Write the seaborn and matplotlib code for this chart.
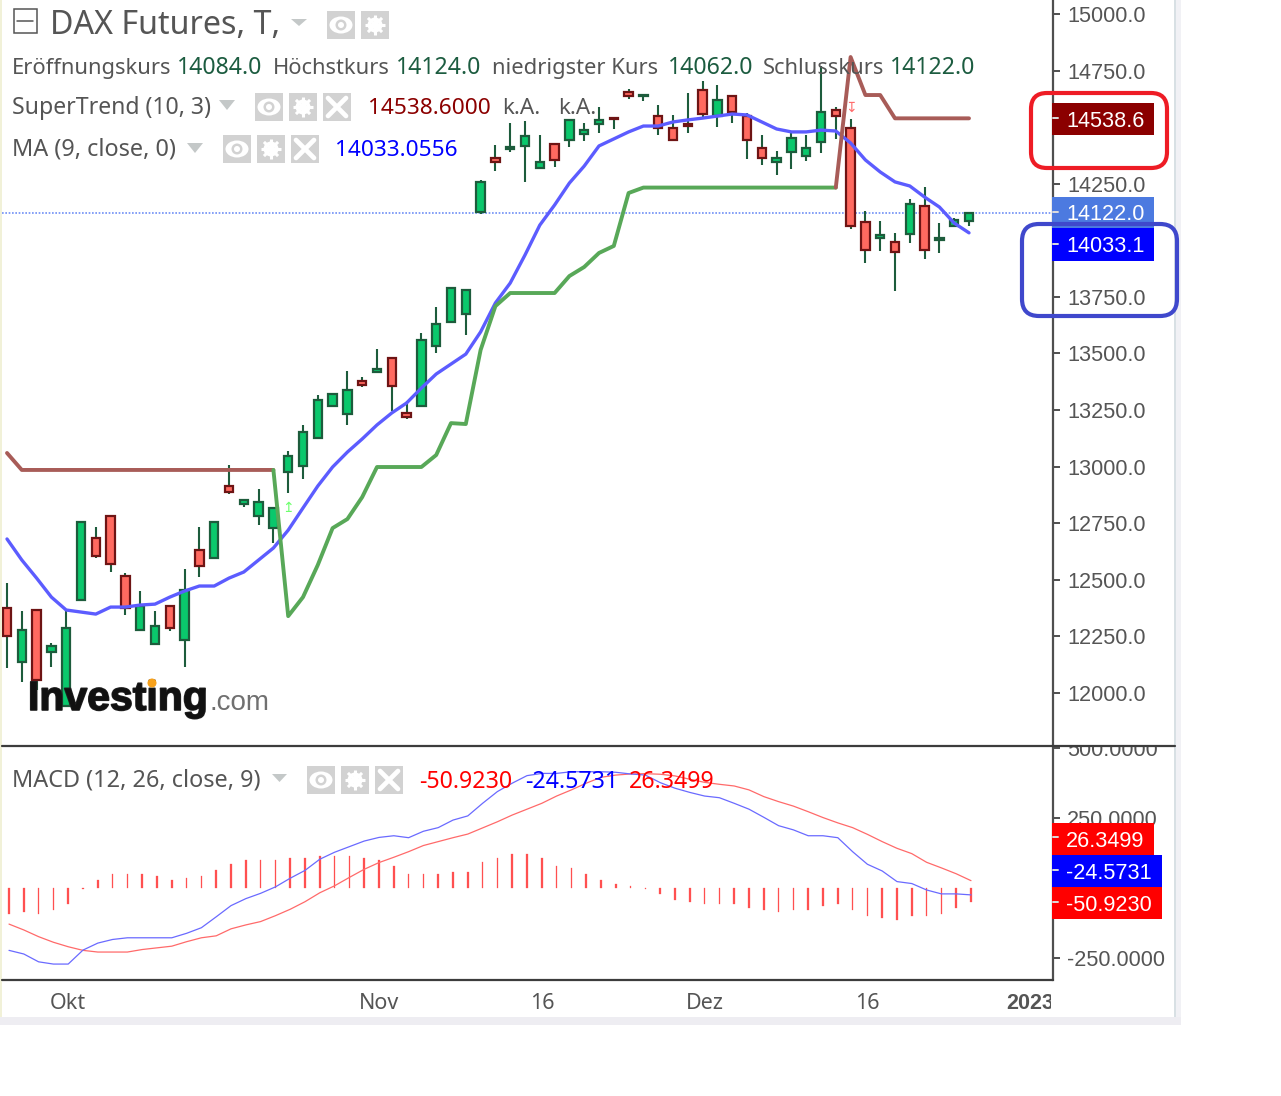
#!/usr/bin/env python3
import matplotlib

matplotlib.use("Agg")
import matplotlib.patheffects as pe
import matplotlib.pyplot as plt
import numpy as np
import seaborn as sns
from matplotlib.patches import Ellipse, FancyBboxPatch, Polygon, Rectangle
from matplotlib.transforms import Bbox

W, H = 1281, 1096
DPI = 100
UI_FONT = "Noto Sans"
AXIS_FONT = "Liberation Sans"

# daily candles
OPENS = [12375, 12136, 12366, 12180, 11941, 12410, 12684, 12781, 12516, 12277, 12215,
         12383, 12233, 12631, 12596, 12914, 12834, 12781, 12728, 12976, 13002, 13126,
         13267, 13232, 13378, 13418, 13480, 13237, 13267, 13533, 13639, 13674, 14125,
         14364, 14403, 14417, 14319, 14426, 14443, 14470, 14514, 14540, 14655, 14638,
         14549, 14496, 14514, 14664, 14549, 14638, 14549, 14408, 14346, 14390, 14372,
         14434, 14576, 14496, 14081, 14010, 13992, 14028, 14151, 14001, 14063, 14084]
HIGHS = [12485, 12361, 12366, 12220, 12366, 12755, 12733, 12781, 12529, 12450, 12361,
         12383, 12547, 12733, 12755, 13007, 12852, 12901, 12817, 13069, 13184, 13316,
         13320, 13422, 13396, 13519, 13480, 13290, 13590, 13705, 13789, 13780, 14266,
         14421, 14518, 14527, 14465, 14426, 14532, 14518, 14589, 14540, 14669, 14642,
         14598, 14554, 14651, 14704, 14686, 14638, 14563, 14465, 14395, 14474, 14465,
         14770, 14589, 14536, 14129, 14085, 14032, 14182, 14235, 14076, 14098, 14124]
LOWS = [12109, 12048, 12012, 12114, 11941, 12410, 12596, 12534, 12344, 12277, 12215,
        12273, 12114, 12512, 12596, 12879, 12821, 12742, 12662, 12883, 12945, 13126,
        13267, 13184, 13351, 13418, 13245, 13210, 13267, 13502, 13639, 13581, 14116,
        14306, 14390, 14258, 14319, 14324, 14412, 14439, 14474, 14492, 14624, 14616,
        14465, 14443, 14474, 14545, 14501, 14518, 14359, 14333, 14288, 14315, 14350,
        14386, 14448, 14050, 13900, 13953, 13776, 13988, 13917, 13944, 14063, 14062]
CLOSES = [12251, 12277, 12056, 12207, 12286, 12755, 12604, 12569, 12375, 12383, 12295,
          12286, 12454, 12560, 12755, 12887, 12852, 12843, 12817, 13046, 13153, 13294,
          13320, 13338, 13360, 13431, 13356, 13219, 13559, 13630, 13789, 13780, 14258,
          14346, 14412, 14461, 14346, 14355, 14532, 14487, 14532, 14536, 14638, 14642,
          14496, 14443, 14505, 14558, 14620, 14567, 14443, 14364, 14364, 14452, 14408,
          14567, 14549, 14063, 13957, 14023, 13948, 14160, 13957, 14010, 14090, 14122]

MA_VALUES = [12680, 12587, 12507, 12423, 12366, 12357, 12348, 12379, 12379, 12388, 12392,
             12423, 12450, 12472, 12472, 12507, 12534, 12587, 12640, 12719, 12817, 12914,
             12998, 13064, 13122, 13184, 13237, 13281, 13347, 13409, 13453, 13497, 13595,
             13723, 13811, 13935, 14067, 14156, 14253, 14328, 14417, 14448, 14479, 14505,
             14505, 14523, 14532, 14540, 14549, 14558, 14554, 14523, 14492, 14479, 14479,
             14487, 14483, 14430, 14355, 14302, 14258, 14240, 14191, 14147, 14076, 14033]

SUPERTREND = [13060, 12985, 12985, 12985, 12985, 12985, 12985, 12985, 12985, 12985, 12985,
              12985, 12985, 12985, 12985, 12985, 12985, 12985, 12985, 12339, 12423, 12565,
              12728, 12768, 12865, 12998, 12998, 12998, 12998, 13051, 13192, 13188, 13515,
              13709, 13767, 13767, 13767, 13767, 13842, 13882, 13944, 13975, 14209, 14233,
              14233, 14233, 14233, 14233, 14233, 14233, 14233, 14233, 14233, 14233, 14233,
              14233, 14233, 14810, 14642, 14642, 14539, 14539, 14539, 14539, 14539, 14539]
TREND_FLIP_UP = 18
TREND_FLIP_DOWN = 56

MACD_VALUES = [-223, -236, -264, -272, -272, -222, -197, -184, -178, -178, -178, -178,
               -162, -142, -103, -63, -38, -19, 4, 35, 63, 103, 128, 148, 168, 181, 187,
               180, 203, 216, 243, 258, 303, 345, 375, 402, 410, 410, 416, 416, 416, 414,
               408, 404, 377, 357, 342, 329, 323, 303, 282, 253, 223, 208, 187, 187, 180,
               130, 85, 61, 23, 16, -7, -21, -21, -24.57]
SIGNAL_VALUES = [-129, -150, -174, -194, -210, -223, -229, -229, -229, -220, -214, -208,
                 -192, -178, -171, -146, -132, -120, -99, -76, -49, -17, 8, 38, 67, 91,
                 110, 130, 152, 166, 180, 193, 215, 237, 261, 282, 303, 329, 351, 375,
                 396, 404, 408, 409, 407, 401, 389, 378, 371, 365, 351, 327, 309, 293,
                 273, 252, 233, 216, 192, 166, 142, 123, 92, 72, 51, 26.35]
HIST_VALUES = [-93, -86, -93, -79, -57, -4, 29, 50, 50, 50, 43, 29, 36, 43, 64, 86, 100,
               100, 100, 107, 107, 115, 115, 115, 107, 100, 79, 50, 50, 50, 57, 57, 93,
               107, 122, 122, 107, 79, 72, 50, 29, 14, 7, -4, -21, -43, -50, -57, -57,
               -57, -72, -79, -86, -79, -79, -64, -57, -79, -100, -107, -115, -100, -100,
               -93, -72, -50.92]

PRICE_TICKS = [15000, 14750, 14250, 13750, 13500, 13250, 13000, 12750, 12500, 12250, 12000]
MACD_TICKS = [500, 250, -250]
DATE_TICKS = [4, 25, 36, 47, 58, 69]
DATE_LABELS = ["Okt", "Nov", "16", "Dez", "16", "2023"]
LAST_CLOSE = 14122

C_GREEN, C_GREEN_EDGE = "#0ac86c", "#1d5c3c"
C_RED, C_RED_EDGE = "#ff6a60", "#6e1414"
C_TEXT = "#555555"
C_VALUE = "#1c5c40"
C_AXIS = "#4f4f4f"
C_ICON = "#d2d2d2"

sns.set_theme(style="white")
plt.rcParams["font.family"] = [UI_FONT, "DejaVu Sans"]


def px_axes(fig, left, top, right, bottom, **kw):
    return fig.add_axes(
        [left / W, 1 - bottom / H, (right - left) / W, (bottom - top) / H], **kw
    )


def draw_candles(ax, bars):
    opens, closes = np.array(OPENS), np.array(CLOSES)
    up = closes >= opens
    ax.vlines(bars, LOWS, HIGHS, color=C_GREEN_EDGE, lw=1.5, zorder=2)
    ax.bar(
        bars,
        np.abs(closes - opens),
        bottom=np.minimum(opens, closes),
        width=0.58,
        color=np.where(up, C_GREEN, C_RED),
        edgecolor=np.where(up, C_GREEN_EDGE, C_RED_EDGE),
        linewidth=1.6,
        zorder=3,
    )


def draw_price_pane(ax):
    bars = np.arange(len(CLOSES))
    ax.axhline(LAST_CLOSE, color="#6f8ff5", lw=1.2, ls=(0, (1, 1)), zorder=1)
    draw_candles(ax, bars)
    sns.lineplot(x=bars, y=MA_VALUES, ax=ax, color="#5c5cff", lw=2.4, zorder=4)
    segments = [
        (0, TREND_FLIP_UP + 1, "#a85c58"),
        (TREND_FLIP_UP, TREND_FLIP_DOWN + 1, "#58a858"),
        (TREND_FLIP_DOWN, len(bars), "#a85c58"),
    ]
    for start, stop, color in segments:
        sns.lineplot(
            x=bars[start:stop], y=SUPERTREND[start:stop], ax=ax, color=color, lw=2.8, zorder=5
        )
    ax.text(19, 12815, "↥", color="#6dff6d", fontsize=10, ha="center", va="center",
            family="DejaVu Sans", zorder=6)
    ax.text(57, 14585, "↧", color="#ff6d6d", fontsize=10, ha="center", va="center",
            family="DejaVu Sans", zorder=6)

    ax.set_xlim(-5 / 14.8, 1046 / 14.8)
    ax.set_ylim(11765, 15062)
    ax.set(xlabel="", ylabel="", xticks=[])
    ax.yaxis.tick_right()
    ax.set_yticks(PRICE_TICKS, [f"{t:.1f}" for t in PRICE_TICKS])


def draw_macd_pane(ax):
    bars = np.arange(len(HIST_VALUES))
    sns.barplot(
        x=bars, y=HIST_VALUES, ax=ax, native_scale=True, width=0.12,
        color="#ff5050", saturation=1, edgecolor="#ff5050", linewidth=0.2, zorder=2,
    )
    sns.lineplot(x=bars, y=SIGNAL_VALUES, ax=ax, color="#ff6a6a", lw=0.9, zorder=3)
    sns.lineplot(x=bars, y=MACD_VALUES, ax=ax, color="#6a6aff", lw=0.9, zorder=4)

    ax.set_xlim(-7 / 14.8, 1044 / 14.8)
    ax.set_ylim(-329, 508)
    ax.set(xlabel="", ylabel="")
    ax.yaxis.tick_right()
    ax.set_yticks(MACD_TICKS, [f"{t:.4f}" for t in MACD_TICKS])
    ax.set_xticks(DATE_TICKS, DATE_LABELS)
    ax.tick_params(axis="x", length=6, width=1.4, color=C_AXIS, pad=3.5, labelsize=15.5,
                   labelcolor=C_TEXT)
    for lab in ax.get_xticklabels():
        lab.set_family(UI_FONT)
        lab.set_clip_on(True)
        lab.set_clip_box(Bbox([[0, 0], [1051, H]]))
    last = ax.get_xticklabels()[-1]
    last.set_family(AXIS_FONT)
    last.set_fontweight("bold")
    for lab in ax.get_yticklabels():
        lab.set_clip_on(True)
        lab.set_clip_box(Bbox([[1054, 0], [W, H - 747]]))


def style_pane(ax):
    for side in ("top", "left", "bottom"):
        ax.spines[side].set_visible(False)
    ax.spines["right"].set_color(C_AXIS)
    ax.spines["right"].set_linewidth(1.6)
    ax.tick_params(axis="y", length=5, width=1.4, color=C_AXIS, pad=5, labelsize=15.6,
                   labelcolor=C_TEXT)
    for lab in ax.get_yticklabels():
        lab.set_family(AXIS_FONT)


def icon_box(ov, x, y, kind):
    ov.add_patch(Rectangle((x, y), 28, 28, fc=C_ICON, ec="none"))
    cx, cy = x + 14, y + 14
    if kind == "eye":
        ov.add_patch(Ellipse((cx, cy), 23, 17, fc="white", ec="none"))
        ov.add_patch(Ellipse((cx, cy), 11, 11, fc=C_ICON, ec="none"))
        ov.add_patch(Ellipse((cx, cy), 6, 6, fc="white", ec="none"))
    elif kind == "gear":
        for a in np.deg2rad([0, 45, 90, 135]):
            dx, dy = 10 * np.cos(a), 10 * np.sin(a)
            ov.plot([cx - dx, cx + dx], [cy - dy, cy + dy], color="white", lw=2.2,
                    solid_capstyle="butt")
        ov.add_patch(Ellipse((cx, cy), 15, 15, fc="white", ec="none"))
        ov.add_patch(Ellipse((cx, cy), 7, 7, fc=C_ICON, ec="none"))
    else:
        ov.plot([x + 5, x + 23], [y + 5, y + 23], color="white", lw=3.4)
        ov.plot([x + 5, x + 23], [y + 23, y + 5], color="white", lw=3.4)


def dropdown(ov, x0, x1, y0, y1):
    ov.add_patch(Polygon([(x0, y0), (x1, y0), ((x0 + x1) / 2, y1)], fc="#c4c8c8", ec="none"))


def flag(ov, x1, y0, y1, color, label, tick_y, tick_color="#dddddd"):
    ov.add_patch(Rectangle((1052, y0), x1 - 1052, y1 - y0, fc=color, ec="none", zorder=5))
    ov.plot([1053, 1058], [tick_y, tick_y], color=tick_color, lw=1.4, zorder=6)
    ov.text(1066, (y0 + y1) / 2 + 2.5, label, color="white", fontsize=15.6, family=AXIS_FONT,
            va="center", ha="left", zorder=6)


def label(ov, x, y, text, color=C_TEXT, size=16.2):
    ov.text(x, y + 2.5, text, color=color, fontsize=size, va="center", ha="left", zorder=6)


def draw_overlay(ov):
    ov.set_xlim(0, W)
    ov.set_ylim(H, 0)
    ov.axis("off")
    ov.patch.set_alpha(0)

    # window frame leftovers of the screenshot
    ov.add_patch(Rectangle((0, 0), 2, 1025, fc="#f1f1d8", ec="none"))
    ov.add_patch(Rectangle((1174, 0), 7, 1025, fc="#f1f1f5", ec="none"))
    ov.add_patch(Rectangle((1174, 0), 2, 1017, fc="#d8e0e4", ec="none"))
    ov.add_patch(Rectangle((0, 1017), 1181, 8, fc="#eeedf2", ec="none"))
    ov.plot([2, 1175], [746, 746], color="#3c3c3c", lw=1.6)
    ov.plot([2, 1053], [980, 980], color="#3c3c3c", lw=1.6)

    # header rows
    ov.add_patch(Rectangle((13.5, 8.5), 23, 24, fc="none", ec="#555555", lw=1.1))
    ov.plot([17, 33], [20.5, 20.5], color="#555555", lw=1.1)
    label(ov, 50, 23, "DAX Futures, T,", size=23.2)
    dropdown(ov, 291, 307, 19, 26)
    icon_box(ov, 327, 11, "eye")
    icon_box(ov, 361, 11, "gear")

    label(ov, 12, 66, "Eröffnungskurs", size=15.8)
    label(ov, 177, 66, "14084.0", C_VALUE, 16.6)
    label(ov, 273, 66, "Höchstkurs", size=15.8)
    label(ov, 396, 66, "14124.0", C_VALUE, 16.6)
    label(ov, 492, 66, "niedrigster Kurs", size=15.8)
    label(ov, 668, 66, "14062.0", C_VALUE, 16.6)
    label(ov, 763, 66, "Schlusskurs", size=15.8)
    label(ov, 890, 66, "14122.0", C_VALUE, 16.6)

    label(ov, 12, 106, "SuperTrend (10, 3)", size=16.6)
    dropdown(ov, 219, 235, 100, 110)
    for x, kind in zip((255, 289, 323), ("eye", "gear", "x")):
        icon_box(ov, x, 93, kind)
    label(ov, 368, 106, "14538.6000", "#8b0000", 16.3)
    label(ov, 502, 106, "k.A.")
    label(ov, 558, 106, "k.A.")

    label(ov, 12, 147, "MA (9, close, 0)", size=16.9)
    dropdown(ov, 187, 203, 143, 153)
    for x, kind in zip((223, 257, 291), ("eye", "gear", "x")):
        icon_box(ov, x, 135, kind)
    label(ov, 335, 148, "14033.0556", "#0000ff", 16.3)

    label(ov, 12, 778, "MACD (12, 26, close, 9)", size=16.9)
    dropdown(ov, 272, 287, 774, 782)
    for x, kind in zip((307, 341, 375), ("eye", "gear", "x")):
        icon_box(ov, x, 766, kind)
    label(ov, 419, 779, "-50.9230", "#ff0000", 16.7)
    label(ov, 525, 779, "-24.5731", "#0000ff", 16.7)
    label(ov, 629, 779, "26.3499", "#ff0000", 16.7)

    # last value flags
    flag(ov, 1154, 103, 135, "#8b0000", "14538.6", 118)
    flag(ov, 1154, 197, 228, "#4c7ae0", "14122.0", 212)
    flag(ov, 1154, 228, 261, "#0000ff", "14033.1", 244)
    flag(ov, 1154, 823, 855, "#ff0000", "26.3499", 837)
    flag(ov, 1162, 855, 887, "#0000ff", "-24.5731", 870)
    flag(ov, 1162, 887, 919, "#ff0000", "-50.9230", 902)

    # hand drawn marks on top of the screenshot
    ov.add_patch(FancyBboxPatch((1047, 109), 104, 43, boxstyle="round,pad=16,rounding_size=16",
                                fc="none", ec="#ee1c25", lw=3, zorder=7))
    ov.add_patch(FancyBboxPatch((1039, 241), 121, 58, boxstyle="round,pad=17,rounding_size=17",
                                fc="none", ec="#3f48cc", lw=3, zorder=7))

    # watermark
    ov.text(28, 699, "Investing", color="#111111", fontsize=29.5, fontweight="bold",
            family=AXIS_FONT, va="center", ha="left", zorder=7,
            path_effects=[pe.withStroke(linewidth=1.2, foreground="#222222")])
    ov.text(209, 703, ".com", color="#707070", fontsize=20, family=AXIS_FONT,
            va="center", ha="left", zorder=7)
    ov.add_patch(Ellipse((152, 683), 9, 9, fc="#f7a11b", ec="none", zorder=8))


def main():
    fig = plt.figure(figsize=(W / DPI, H / DPI), dpi=DPI, facecolor="white")

    price_ax = px_axes(fig, 2, 0, 1053, 746)
    macd_ax = px_axes(fig, 2, 746, 1053, 980)
    draw_price_pane(price_ax)
    draw_macd_pane(macd_ax)
    style_pane(price_ax)
    style_pane(macd_ax)

    overlay = px_axes(fig, 0, 0, W, H, zorder=10)
    draw_overlay(overlay)

    fig.savefig("out.png", dpi=DPI, facecolor="white")
    plt.close(fig)


if __name__ == "__main__":
    main()
